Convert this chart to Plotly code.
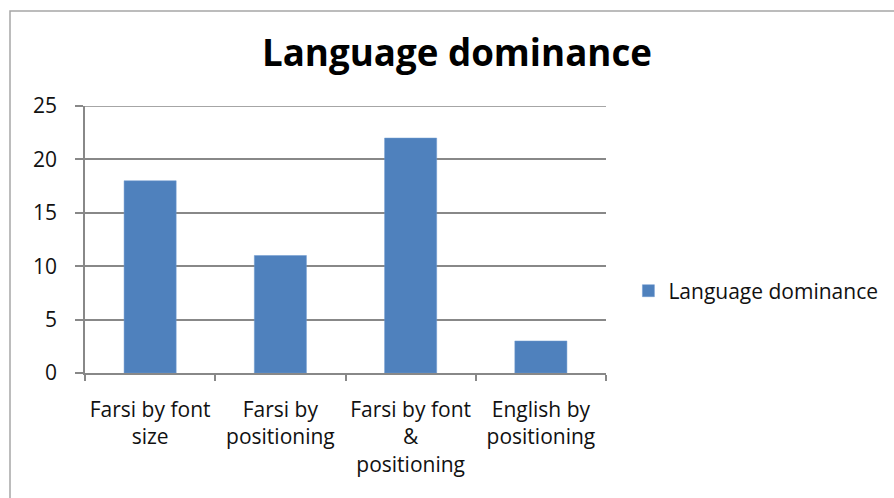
import plotly.graph_objects as go

categories = ["Farsi by font<br>size", "Farsi by<br>positioning",
              "Farsi by font<br>&<br>positioning", "English by<br>positioning"]
values = [18, 11, 22, 3]
series_name = "Language dominance"
title_text = "Language dominance"
y_ticks = [0, 5, 10, 15, 20, 25]

FONT = "Open Sans, sans-serif"
GRID = "#888888"
TXT = "#111111"

fig = go.Figure()
fig.add_trace(go.Bar(
    x=categories, y=values, name=series_name,
    marker=dict(color="#4F81BD", line=dict(color="#6f9bd0", width=0.5)),
    showlegend=True,
))

fig.update_layout(
    width=894, height=498,
    margin=dict(l=85, r=288, t=106, b=125, autoexpand=False),
    paper_bgcolor="white", plot_bgcolor="white",
    bargap=0.6,
    font=dict(family=FONT, size=21, color=TXT),
    title=dict(text="<b>" + title_text + "</b>", x=457 / 894, xanchor="center",
               y=1 - 53 / 498, yanchor="middle", xref="container", yref="container",
               font=dict(family=FONT, size=36.7, color="#000000")),
    showlegend=True,
    legend=dict(x=1.043, xanchor="left", y=0.307, yanchor="middle",
                font=dict(family=FONT, size=21, color=TXT),
                bgcolor="rgba(0,0,0,0)"),
    xaxis=dict(
        type="category", tickson="boundaries", ticks="outside", ticklen=6,
        tickcolor=GRID, tickwidth=1.5, showline=True, linecolor=GRID, linewidth=1.5,
        showgrid=False, tickfont=dict(family=FONT, size=21, color=TXT),
        tickangle=0, automargin=False,
        ticklabelstandoff=17, fixedrange=True,
    ),
    yaxis=dict(
        range=[0, 25], tickvals=y_ticks, ticks="outside", ticklen=8,
        tickcolor=GRID, tickwidth=1.5, showline=True, linecolor=GRID, linewidth=1.5,
        showgrid=True, gridcolor=GRID, gridwidth=1.5, zeroline=False,
        tickfont=dict(family=FONT, size=21, color=TXT), automargin=False,
        ticklabelstandoff=14,
    ),
    shapes=[
        dict(type="line", xref="paper", yref="y", x0=0, x1=1,
             y0=y_ticks[-1], y1=y_ticks[-1], line=dict(color=GRID, width=1.5)),
        dict(type="rect", xref="paper", yref="paper",
             x0=(10 - 85) / 521, x1=2.0, y0=-1.0, y1=(373 - 11) / 267,
             line=dict(color="#a6a6a6", width=1.5), fillcolor="rgba(0,0,0,0)",
             layer="below"),
    ],
)

fig.write_html("out.html")
